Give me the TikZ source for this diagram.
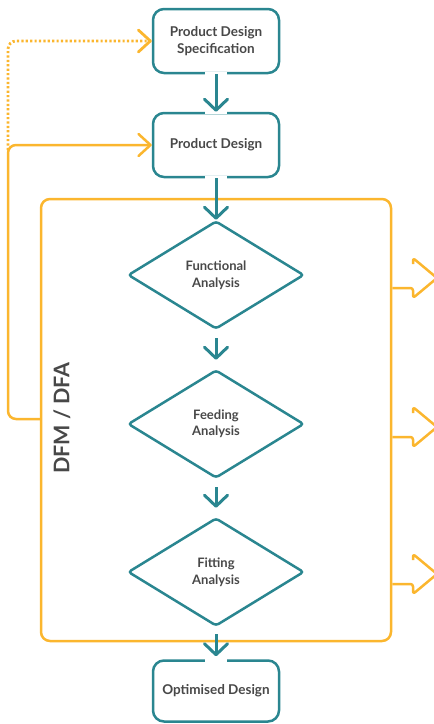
\documentclass[tikz,border=0pt]{standalone}
\usepackage{fontspec}
\setmainfont{Lato}
\usetikzlibrary{shapes.geometric,arrows.meta,calc}
\definecolor{teal}{RGB}{42,134,144}
\definecolor{amber}{RGB}{251,182,46}
\definecolor{ink}{RGB}{72,72,72}
\tikzset{
  stepbox/.style={draw=teal, line width=2.5pt, rounded corners=11pt, fill=white,
    minimum width=126pt, minimum height=64pt, inner sep=2pt, align=center,
    text=ink, font=\fontsize{13.5}{16.5}\selectfont\bfseries},
  check/.style={diamond, draw=teal, line width=2.5pt, rounded corners=3pt,
    minimum width=176pt, minimum height=108pt, inner sep=1pt, align=center,
    text=ink, font=\fontsize{13}{16.5}\selectfont\bfseries},
  frame/.style={draw=amber, line width=2.5pt, rounded corners=9pt,
    minimum width=350pt, minimum height=442pt, inner sep=0pt},
  flow/.style={draw=teal, line width=3pt,
    -{Straight Barb[length=11pt,width=23pt,line join=round,line cap=round]}},
  feedback/.style={draw=amber, line width=2.5pt, rounded corners=8pt,
    -{Straight Barb[length=12pt,width=22pt,line join=round,line cap=round]}},
  hint/.style={feedback, line width=2.8pt, dash pattern=on 2.2pt off 2.2pt},
  output/.style={draw=amber, line width=2.5pt, rounded corners=2.5pt, line join=round},
  gap/.style={draw=white, line width=5pt},
}
\begin{document}
\begin{tikzpicture}[x=1pt,y=1pt]
\useasboundingbox (0,0) rectangle (434,-724);

% DFM / DFA stage frame
\node[frame] (frame) at (216,-420) {};
\node[rotate=90, text=ink, font=\fontsize{21.5}{24}\selectfont\bfseries] (dfm) at (62,-418) {DFM / DFA};

% process steps
\node[stepbox] (pds) at (216,-41) {Product Design\\Specification};
\node[stepbox] (pd) at (216,-145) {Product Design};
\node[check] (func) at (216,-275) {Functional\\Analysis};
\node[check] (feed) at (216,-424) {Feeding\\Analysis};
\node[check] (fit) at (216,-572) {Fitting\\Analysis};
\node[stepbox, minimum height=61pt] (opt) at (216,-691) {Optimised Design};

% openings in the box borders where the flow passes
\foreach \n/\a in {pds/south, pd/north, pd/south, opt/north}
  \draw[gap] ($(\n.\a)-(11,0)$) -- ($(\n.\a)+(11,0)$);

% main flow
\draw[flow] (pds.south) -- (pd.north);
\draw[flow] (pd.south) -- (func.north);
\draw[flow, shorten <=8pt, shorten >=9pt] (func.south) -- (feed.north);
\draw[flow, shorten <=8pt, shorten >=9pt] (feed.south) -- (fit.north);
\draw[flow, shorten <=7pt, shorten >=3pt] (fit.south) -- (opt.north);

% feedback loops on the left
\coordinate (loop) at (8,-419);
\coordinate (hintstart) at (8,-150);
\draw[feedback] (frame.west |- loop) -- (loop) |- (pd.west);
\draw[hint] (hintstart) |- (pds.west);

% outputs on the right
\foreach \y [count=\i] in {-288,-437,-584} {
  \coordinate (out\i) at (413,\y);
  \draw[output] (frame.east |- out\i) -- (out\i) -- ++(0,-10) -- ++(24,20)
    -- ++(-24,20) -- ++(0,-6);
}
\end{tikzpicture}
\end{document}
